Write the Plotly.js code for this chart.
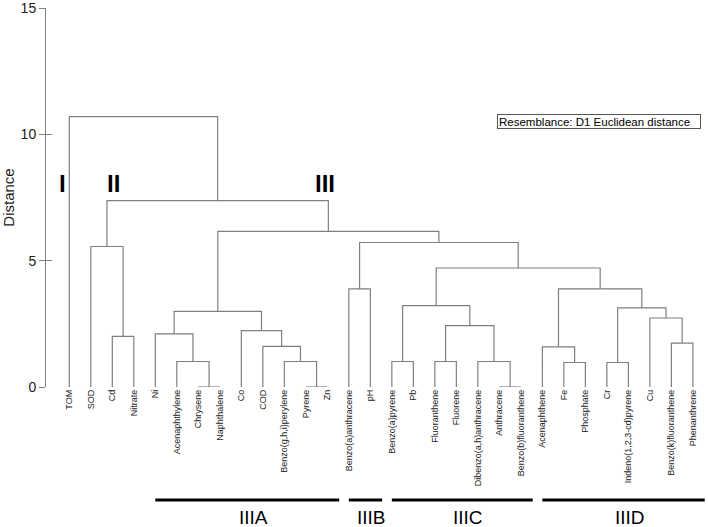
<!DOCTYPE html>
<html><head><meta charset="utf-8">
<script src="https://cdn.plot.ly/plotly-3.0.1.min.js"></script>
<style>html,body{margin:0;padding:0;background:#fff}#chart{width:708px;height:527px}</style>
</head><body><div id="chart"></div>
<script>
// Leaves in display order (left to right)
const leafLabels = ['TOM','SOD','Cd','Nitrate','Ni','Acenaphthylene','Chrysene','Naphthalene','Co','COD',
  'Benzo(g,h,i)perylene','Pyrene','Zn','Benzo(a)anthracene','pH','Benzo(a)pyrene','Pb','Fluoranthene','Fluorene',
  'Dibenzo(a,h)anthracene','Anthracene','Benzo(b)fluoranthene','Acenaphthene','Fe','Phosphate','Cr',
  'Indeno(1,2,3-cd)pyrene','Cu','Benzo(k)fluoranthene','Phenanthrene'];

// Linkage: node ids 0..29 are leaves; merge k creates node 30+k
const mergeLeft   = [6,11,20,5,10,15,17,19,23,25,28,22,9,2,4,8,36,27,44,39,35,13,41,50,1,51,48,54,0];
const mergeRight  = [7,12,21,30,31,16,18,32,24,26,29,38,34,3,33,42,37,40,45,47,46,14,49,52,43,53,55,56,57];
const mergeHeight = [0,0,0,1.01,1.01,1.01,1.01,1.01,0.97,0.97,1.74,1.59,1.61,2.00,2.10,2.23,2.43,2.73,2.99,3.13,3.22,3.88,3.88,4.71,5.56,5.72,6.16,7.38,10.70];

// Cluster groups under the axis
const groupNames     = ['IIIA','IIIB','IIIC','IIID'];
const groupFirstLeaf = [4,13,15,22];
const groupLastLeaf  = [12,14,21,29];

// Main cluster labels
const clusterNames = ['I','II','III'];
const clusterX     = [-0.30, 2.06, 11.9];
const clusterY     = [8.07, 8.07, 8.07];

const yTicks = [0,5,10,15];
const legendText = 'Resemblance: D1 Euclidean distance';

// Build dendrogram coordinates from linkage
const nodeX = leafLabels.map((_, i) => i);
const nodeH = leafLabels.map(() => 0);
const lx = [], ly = [];
for (let k = 0; k < mergeHeight.length; k++) {
  const a = mergeLeft[k], b = mergeRight[k], h = mergeHeight[k];
  lx.push(nodeX[a], nodeX[a], nodeX[b], nodeX[b], null);
  ly.push(nodeH[a], h, h, nodeH[b], null);
  nodeX.push((nodeX[a] + nodeX[b]) / 2);
  nodeH.push(h);
}

const grey = '#7f7f7f';
const font = 'Liberation Sans, Arial, sans-serif';

const traces = [
  {x: lx, y: ly, type: 'scatter', mode: 'lines', line: {color: grey, width: 1.2}, hoverinfo: 'skip', showlegend: false},
  {x: [null], y: [null], yaxis: 'y2', type: 'scatter', mode: 'lines', hoverinfo: 'skip', showlegend: false}
];

const shapes = groupNames.map((g, i) => ({
  type: 'line', xref: 'x', yref: 'paper',
  x0: groupFirstLeaf[i], x1: groupLastLeaf[i] + 0.55, y0: -0.298, y1: -0.298,
  line: {color: '#000', width: 3}
}));

const annotations = [];
groupNames.forEach((g, i) => annotations.push({
  text: g, xref: 'x', yref: 'paper',
  x: (groupFirstLeaf[i] + groupLastLeaf[i] + 0.55) / 2, xshift: 6,
  y: -0.3456, xanchor: 'center', yanchor: 'middle', showarrow: false,
  font: {family: font, size: 19, color: '#000'}
}));
clusterNames.forEach((c, i) => annotations.push({
  text: c, xref: 'x', yref: 'y', x: clusterX[i], y: clusterY[i],
  xanchor: 'center', yanchor: 'middle', showarrow: false,
  font: {family: font, size: 24, color: '#000', weight: 'bold'}
}));
annotations.push({
  text: legendText, xref: 'paper', yref: 'paper', x: (496.7 - 46) / 660, y: 0.7018,
  xanchor: 'left', yanchor: 'middle', showarrow: false, align: 'left',
  width: 200, height: 11, borderpad: 1, borderwidth: 1, bordercolor: '#555', bgcolor: '#fff',
  font: {family: font, size: 11.5, color: '#000'}
});

const layout = {
  width: 708, height: 527,
  margin: {l: 46, r: 2, t: 8, b: 140},
  paper_bgcolor: '#fff', plot_bgcolor: '#fff',
  showlegend: false,
  xaxis: {
    range: [-1.084, 29.61], showgrid: false, zeroline: false, showline: false, ticks: '',
    tickmode: 'array', tickvals: leafLabels.map((_, i) => i), ticktext: leafLabels,
    tickangle: -90, tickfont: {family: font, size: 9, color: '#222'}, fixedrange: true
  },
  yaxis: {
    range: [0, 15.0001], showgrid: false, zeroline: false, showline: true, linecolor: grey, linewidth: 1,
    ticks: 'outside', ticklen: 6, tickcolor: grey, tickwidth: 1,
    tickmode: 'array', tickvals: yTicks, ticktext: yTicks.map(String), ticklabeloverflow: 'allow',
    tickfont: {family: font, size: 14, color: '#222'},
    title: {text: 'Distance', font: {family: font, size: 15, color: '#222'}, standoff: 4},
    fixedrange: true
  },
  yaxis2: {
    overlaying: 'y', side: 'left', range: [0, 15.0001], showgrid: false, zeroline: false, showline: false,
    ticks: 'inside', ticklen: 6, tickcolor: grey, tickwidth: 1,
    tickmode: 'array', tickvals: yTicks, showticklabels: false, fixedrange: true
  },
  shapes: shapes,
  annotations: annotations
};

Plotly.newPlot('chart', traces, layout, {displayModeBar: false, staticPlot: true});
</script>
</body></html>
